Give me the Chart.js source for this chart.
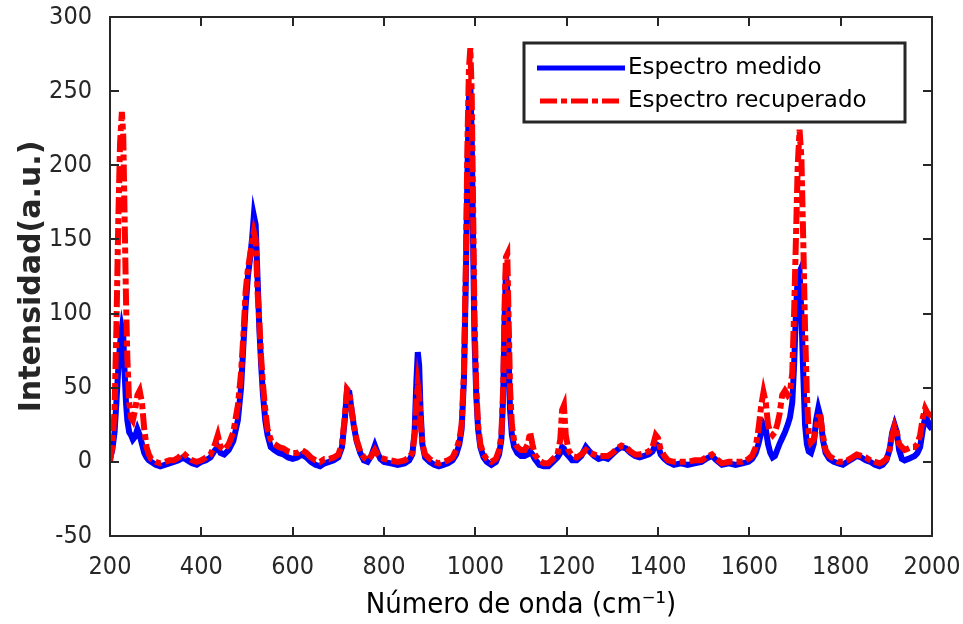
<!DOCTYPE html>
<html>
<head>
<meta charset="utf-8">
<script src="https://cdn.jsdelivr.net/npm/chart.js@4.4.1/dist/chart.umd.min.js"></script>
<style>
  body { margin: 0; background: #fff; }
  #wrap { width: 963px; height: 624px; }
</style>
</head>
<body>
<div id="wrap"><canvas id="spectrumChart" width="963" height="624"></canvas></div>
<script>
// wavenumbers (cm-1) and the two spectra
const waveNumbers = [200,205,210,214,218,222,226,229,232,235,238,242,246,250,255,260,265,270,275,280,285,290,300,310,320,330,340,350,360,370,380,390,400,410,420,430,436,442,450,460,470,480,487,492,497,502,507,511,515,519,523,527,531,535,540,545,552,560,570,580,590,600,610,620,630,640,650,660,670,680,690,700,708,714,719,724,729,734,740,748,756,764,772,780,786,792,800,815,830,845,855,862,867,871,874,877,880,884,890,900,910,920,930,940,950,958,965,970,975,979,983,986,989,992,995,998,1002,1006,1011,1018,1025,1035,1045,1052,1057,1061,1064,1067,1070,1073,1076,1080,1085,1092,1100,1108,1115,1120,1125,1130,1140,1150,1160,1170,1180,1186,1190,1194,1198,1204,1212,1222,1232,1242,1250,1260,1270,1280,1290,1300,1310,1320,1330,1340,1350,1360,1370,1380,1388,1395,1400,1406,1414,1422,1435,1450,1465,1480,1495,1505,1518,1528,1540,1555,1570,1585,1598,1606,1614,1620,1626,1631,1636,1641,1646,1651,1656,1661,1666,1672,1678,1684,1689,1694,1698,1702,1706,1710,1714,1718,1722,1726,1730,1735,1741,1746,1751,1756,1761,1767,1775,1785,1795,1805,1815,1825,1835,1845,1855,1865,1875,1885,1892,1900,1907,1913,1918,1923,1928,1934,1940,1948,1955,1962,1968,1974,1980,1985,1990,1995,2000];

const measured = [2,8,20,40,62,80,90,85,60,40,28,20,18,15,17,22,18,12,6,3,1,0,-2,-3,-2,-1,0,1,3,1,-1,-2,0,1,3,8,10,6,5,8,14,28,50,78,105,125,138,150,166,160,125,90,65,45,28,18,10,8,6,5,3,2,3,5,3,0,-2,-3,-1,0,1,3,10,28,48,47,35,24,14,6,1,0,4,11,6,2,0,-1,-2,-1,1,5,20,55,74,65,35,12,3,0,-2,-3,-2,-1,1,5,12,22,55,120,200,245,255,220,150,85,45,22,10,3,0,-2,0,5,15,45,95,128,115,70,35,18,10,6,4,4,5,7,5,2,-2,-3,-3,0,3,6,10,9,6,4,1,1,4,10,7,4,2,3,2,5,8,10,9,6,4,3,4,5,7,12,11,5,2,0,-2,-1,-2,-1,0,2,4,1,-2,-1,-2,-1,0,2,6,12,20,25,22,12,6,3,4,8,12,16,20,25,30,40,65,100,125,128,100,60,25,12,7,6,12,28,36,30,15,6,2,0,-1,-2,0,2,4,3,1,0,-2,-3,-2,1,8,20,25,20,8,2,1,2,3,4,6,10,22,30,28,24,22];

const recovered = [0,10,35,90,160,215,236,220,165,110,70,40,30,28,35,45,48,40,22,10,5,2,0,-1,0,1,1,3,6,3,1,0,1,3,5,12,18,10,8,12,20,38,60,85,115,130,140,148,155,150,115,95,70,52,35,22,15,12,10,9,7,6,6,8,6,3,1,0,2,2,3,5,12,30,49,47,35,25,15,7,3,1,4,8,5,3,2,1,0,1,3,6,18,40,52,45,28,12,5,2,0,-1,0,1,3,8,15,25,60,130,220,265,279,250,175,100,50,25,12,5,2,0,2,8,18,50,105,138,140,95,50,25,14,10,8,8,12,20,12,5,1,-1,-1,2,5,15,35,38,18,8,4,3,5,8,6,5,4,4,4,6,9,11,10,7,5,5,6,7,10,18,16,8,4,1,0,0,0,1,1,3,5,2,-1,0,0,0,2,4,10,22,38,47,40,25,20,18,20,25,32,45,48,45,47,60,100,150,200,224,205,150,90,45,20,13,15,22,30,30,18,8,4,2,0,0,1,3,5,4,3,1,0,-1,0,2,8,18,24,20,12,10,8,9,10,10,12,18,30,36,33,32,31];

const xTicks = [200,400,600,800,1000,1200,1400,1600,1800,2000];
const yTicks = [-50,0,50,100,150,200,250,300];
const seriesNames = ['Espectro medido', 'Espectro recuperado'];

const axisColor = '#262626';
const redDash = [17, 4, 6, 4];
const tickFont = { family: '"DejaVu Sans Condensed", "DejaVu Sans", sans-serif', size: 25 };

// MATLAB style frame with inward ticks on all four sides, plus the legend box
const framePlugin = {
  id: 'frame',
  afterDatasetsDraw(chart) {
    const { ctx, chartArea: a, scales } = chart;
    ctx.save();
    ctx.strokeStyle = axisColor;
    ctx.lineWidth = 2;
    ctx.strokeRect(a.left, a.top, a.right - a.left, a.bottom - a.top);
    const len = 9;
    ctx.beginPath();
    xTicks.forEach(v => {
      const px = Math.round(scales.x.getPixelForValue(v));
      ctx.moveTo(px, a.bottom); ctx.lineTo(px, a.bottom - len);
      ctx.moveTo(px, a.top); ctx.lineTo(px, a.top + len);
    });
    yTicks.forEach(v => {
      const py = Math.round(scales.y.getPixelForValue(v));
      ctx.moveTo(a.left, py); ctx.lineTo(a.left + len, py);
      ctx.moveTo(a.right, py); ctx.lineTo(a.right - len, py);
    });
    ctx.stroke();

    const bx = 524, by = 43, bw = 381, bh = 79;
    ctx.fillStyle = '#fff';
    ctx.fillRect(bx, by, bw, bh);
    ctx.lineWidth = 3;
    ctx.strokeStyle = '#262626';
    ctx.strokeRect(bx, by, bw, bh);
    const rows = [by + 25, by + 58];
    ctx.lineWidth = 5;
    ctx.lineCap = 'butt';
    ctx.strokeStyle = '#0000ff';
    ctx.setLineDash([]);
    ctx.beginPath(); ctx.moveTo(537, rows[0]); ctx.lineTo(625, rows[0]); ctx.stroke();
    ctx.strokeStyle = '#ff0000';
    ctx.setLineDash(redDash);
    ctx.beginPath(); ctx.moveTo(540, rows[1]); ctx.lineTo(623, rows[1]); ctx.stroke();
    ctx.setLineDash([]);
    ctx.fillStyle = '#000';
    ctx.font = '23px "DejaVu Sans"';
    ctx.textBaseline = 'middle';
    ctx.fillText(seriesNames[0], 628, rows[0]);
    ctx.fillText(seriesNames[1], 628, rows[1]);
    ctx.restore();
  }
};

const ctx = document.getElementById('spectrumChart').getContext('2d');
const spectrumChart = new Chart(ctx, {
  type: 'line',
  data: {
    datasets: [{
      label: seriesNames[0],
      data: waveNumbers.map((x, i) => ({ x: x, y: measured[i] })),
      borderColor: '#0000ff',
      borderWidth: 6,
      pointRadius: 0,
      order: 1
    }, {
      label: seriesNames[1],
      data: waveNumbers.map((x, i) => ({ x: x, y: recovered[i] })),
      borderColor: '#ff0000',
      borderWidth: 6,
      borderDash: redDash,
      pointRadius: 0,
      order: 0
    }]
  },
  options: {
    responsive: false,
    animation: false,
    layout: { padding: { top: 17, right: 31, left: 0, bottom: 0 } },
    plugins: { legend: { display: false }, tooltip: { enabled: false } },
    scales: {
      x: {
        type: 'linear',
        min: 200, max: 2000,
        afterBuildTicks: s => { s.ticks = xTicks.map(v => ({ value: v })); },
        afterFit: s => { s.height = 88; s.paddingLeft = 0; s.paddingRight = 0; },
        grid: { display: false },
        border: { display: false },
        ticks: {
          color: axisColor,
          padding: 8,
          maxRotation: 0,
          callback: v => String(v),
          font: tickFont
        },
        title: {
          display: true,
          text: 'Número de onda (cm⁻¹)',
          color: '#000',
          padding: { top: 0, bottom: 1 },
          font: { family: '"DejaVu Sans Condensed", "DejaVu Sans", sans-serif', size: 29 }
        }
      },
      y: {
        min: -50, max: 300,
        afterBuildTicks: s => { s.ticks = yTicks.map(v => ({ value: v })); },
        afterFit: s => { s.width = 110; s.paddingTop = 0; s.paddingBottom = 0; },
        grid: { display: false },
        border: { display: false },
        ticks: {
          color: axisColor,
          padding: 10,
          callback: v => String(v),
          font: tickFont
        },
        title: {
          display: true,
          text: 'Intensidad(a.u.)',
          color: axisColor,
          padding: { top: 14, bottom: 0 },
          font: { family: '"DejaVu Sans", sans-serif', size: 30, weight: 'bold' }
        }
      }
    }
  },
  plugins: [framePlugin]
});
</script>
</body>
</html>
